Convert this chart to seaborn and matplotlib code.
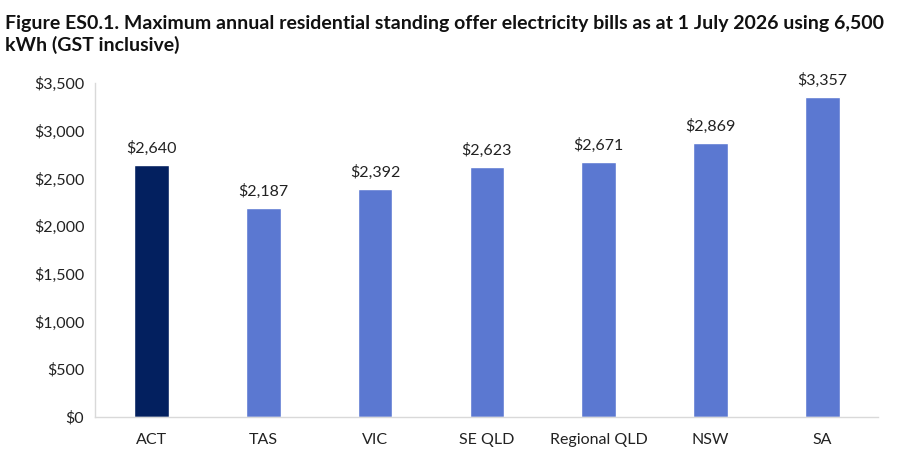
import matplotlib
matplotlib.use('Agg')
import matplotlib.pyplot as plt
import seaborn as sns
import pandas as pd

regions = ['ACT', 'TAS', 'VIC', 'SE QLD', 'Regional QLD', 'NSW', 'SA']
bills = [2640, 2187, 2392, 2623, 2671, 2869, 3357]
bar_colours = ['#03205F', '#5B78D1', '#5B78D1', '#5B78D1', '#5B78D1', '#5B78D1', '#5B78D1']

df = pd.DataFrame({'region': regions, 'bill': bills})

sns.set_style('white')
plt.rcParams['font.family'] = ['Lato', 'DejaVu Sans']

fig = plt.figure(figsize=(9, 4.54), dpi=100)
ax = fig.add_axes([0.106, 0.082, 0.87, 0.735])

sns.barplot(data=df, x='region', y='bill', hue='region', palette=bar_colours,
            width=0.31, legend=False, ax=ax, saturation=1)

for i, v in enumerate(bills):
    ax.text(i, v + 95, f'${v:,}', ha='center', va='bottom', fontsize=11.5, color='#222222')

ax.set_ylim(0, 3500)
ax.set_yticks(range(0, 3501, 500))
ax.set_yticklabels([f'${t:,}' for t in range(0, 3501, 500)])
ax.tick_params(axis='both', labelsize=11.5, colors='#222222', length=0)
ax.tick_params(axis='x', pad=12)
ax.tick_params(axis='y', pad=8)
ax.set_xlabel('')
ax.set_ylabel('')

for side in ['top', 'right']:
    ax.spines[side].set_visible(False)
for side in ['left', 'bottom']:
    ax.spines[side].set_color('#D9D9D9')
    ax.spines[side].set_linewidth(1)

fig.text(0.006, 0.968, 'Figure ES0.1. Maximum annual residential standing offer electricity bills as at 1 July 2026 using 6,500\nkWh (GST inclusive)',
         ha='left', va='top', fontsize=14, fontweight='bold', color='#111111', linespacing=1.3)

fig.savefig('out.png', dpi=100)
